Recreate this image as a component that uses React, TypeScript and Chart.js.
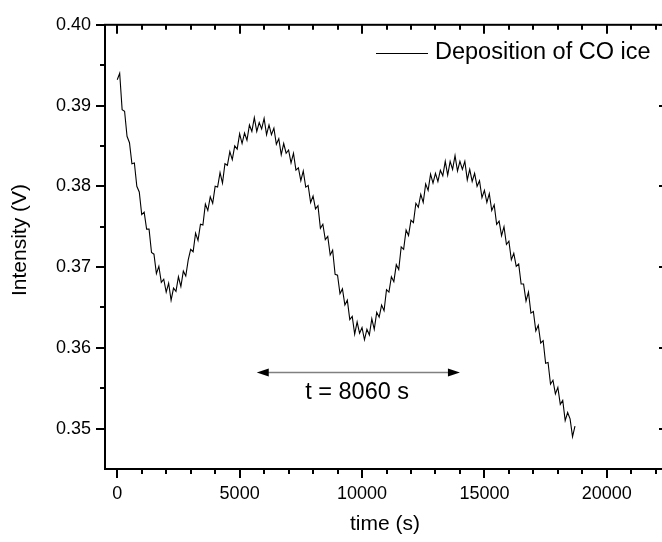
import React, { useEffect, useRef } from "react";
import { Chart, registerables } from "chart.js";

Chart.register(...registerables);

// ---- data (time in s, intensity in V) ----
const TIMES = [
  0, 100, 200, 300, 400, 500, 600, 700, 800, 900,
  1000, 1100, 1200, 1300, 1400, 1500, 1600, 1700, 1800, 1900,
  2000, 2100, 2200, 2300, 2400, 2500, 2600, 2700, 2800, 2900,
  3000, 3100, 3200, 3300, 3400, 3500, 3600, 3700, 3800, 3900,
  4000, 4100, 4200, 4300, 4400, 4500, 4600, 4700, 4800, 4900,
  5000, 5100, 5200, 5300, 5400, 5500, 5600, 5700, 5800, 5900,
  6000, 6100, 6200, 6300, 6400, 6500, 6600, 6700, 6800, 6900,
  7000, 7100, 7200, 7300, 7400, 7500, 7600, 7700, 7800, 7900,
  8000, 8100, 8200, 8300, 8400, 8500, 8600, 8700, 8800, 8900,
  9000, 9100, 9200, 9300, 9400, 9500, 9600, 9700, 9800, 9900,
  10000, 10100, 10200, 10300, 10400, 10500, 10600, 10700, 10800, 10900,
  11000, 11100, 11200, 11300, 11400, 11500, 11600, 11700, 11800, 11900,
  12000, 12100, 12200, 12300, 12400, 12500, 12600, 12700, 12800, 12900,
  13000, 13100, 13200, 13300, 13400, 13500, 13600, 13700, 13800, 13900,
  14000, 14100, 14200, 14300, 14400, 14500, 14600, 14700, 14800, 14900,
  15000, 15100, 15200, 15300, 15400, 15500, 15600, 15700, 15800, 15900,
  16000, 16100, 16200, 16300, 16400, 16500, 16600, 16700, 16800, 16900,
  17000, 17100, 17200, 17300, 17400, 17500, 17600, 17700, 17800, 17900,
  18000, 18100, 18200, 18300, 18400, 18500, 18600, 18700,
];

const INTENSITY = [
  0.3932, 0.3940, 0.3895, 0.3893, 0.3862, 0.3854, 0.3828, 0.3829, 0.3800, 0.3793,
  0.3765, 0.3768, 0.3747, 0.3747, 0.3718, 0.3716, 0.3692, 0.3701, 0.3681, 0.3685,
  0.3669, 0.3680, 0.3659, 0.3674, 0.3670, 0.3688, 0.3676, 0.3695, 0.3689, 0.3709,
  0.3722, 0.3719, 0.3742, 0.3733, 0.3753, 0.3752, 0.3778, 0.3770, 0.3787, 0.3779,
  0.3800, 0.3799, 0.3817, 0.3804, 0.3828, 0.3826, 0.3843, 0.3833, 0.3850, 0.3846,
  0.3865, 0.3853, 0.3866, 0.3857, 0.3876, 0.3868, 0.3885, 0.3868, 0.3879, 0.3871,
  0.3884, 0.3864, 0.3876, 0.3864, 0.3872, 0.3852, 0.3859, 0.3839, 0.3853, 0.3841,
  0.3845, 0.3829, 0.3841, 0.3820, 0.3823, 0.3807, 0.3819, 0.3799, 0.3801, 0.3780,
  0.3788, 0.3772, 0.3776, 0.3748, 0.3753, 0.3734, 0.3738, 0.3715, 0.3721, 0.3691,
  0.3690, 0.3667, 0.3673, 0.3653, 0.3659, 0.3635, 0.3639, 0.3617, 0.3632, 0.3618,
  0.3625, 0.3610, 0.3623, 0.3616, 0.3636, 0.3623, 0.3644, 0.3638, 0.3653, 0.3646,
  0.3672, 0.3669, 0.3688, 0.3682, 0.3703, 0.3697, 0.3725, 0.3722, 0.3746, 0.3739,
  0.3758, 0.3755, 0.3779, 0.3774, 0.3790, 0.3780, 0.3803, 0.3795, 0.3815, 0.3804,
  0.3816, 0.3806, 0.3820, 0.3813, 0.3831, 0.3814, 0.3831, 0.3821, 0.3838, 0.3819,
  0.3831, 0.3821, 0.3831, 0.3808, 0.3821, 0.3806, 0.3816, 0.3800, 0.3807, 0.3786,
  0.3795, 0.3780, 0.3791, 0.3770, 0.3777, 0.3753, 0.3757, 0.3739, 0.3750, 0.3728,
  0.3732, 0.3709, 0.3717, 0.3701, 0.3704, 0.3679, 0.3679, 0.3658, 0.3669, 0.3643,
  0.3645, 0.3621, 0.3628, 0.3606, 0.3609, 0.3581, 0.3582, 0.3555, 0.3560, 0.3543,
  0.3551, 0.3530, 0.3535, 0.3510, 0.3520, 0.3512, 0.3490, 0.3503,
];

const X_TICK_VALUES = [0, 5000, 10000, 15000, 20000];
const Y_TICK_VALUES = [0.35, 0.36, 0.37, 0.38, 0.39, 0.4];
const X_MINOR_VALUES = [
  1000, 2000, 3000, 4000, 6000, 7000, 8000, 9000, 11000, 12000, 13000, 14000,
  16000, 17000, 18000, 19000, 21000, 22000,
];
const Y_MINOR_VALUES = [0.355, 0.365, 0.375, 0.385, 0.395];

const SERIES_LABEL = "Deposition of CO ice";
const X_TITLE = "time (s)";
const Y_TITLE = "Intensity (V)";
const X_MIN = -500;
const X_MAX = 22500;
const Y_MIN = 0.345;
const Y_MAX = 0.4;

const ARROW_FROM = 5700;
const ARROW_TO = 14000;
const ARROW_Y = 0.357;
const ANNOT_TEXT = "t = 8060 s";
const ANNOT_X = 9800;
const ANNOT_Y = 0.3545;

const FONT = "'Liberation Sans', Arial, Helvetica, sans-serif";

const framePlugin = {
  id: "originFrame",
  afterDraw(chart: any) {
    const { ctx, chartArea: a, scales } = chart;
    const xs = scales.x;
    const ys = scales.y;
    ctx.save();
    ctx.strokeStyle = "#000";
    ctx.lineWidth = 2;
    ctx.strokeRect(a.left, a.top, a.right - a.left, a.bottom - a.top);

    ctx.beginPath();
    const xTick = (v: number, len: number) => {
      const px = Math.round(xs.getPixelForValue(v));
      ctx.moveTo(px, a.bottom);
      ctx.lineTo(px, a.bottom + len);
      ctx.moveTo(px, a.top);
      ctx.lineTo(px, a.top + len);
    };
    const yTick = (v: number, len: number) => {
      const py = Math.round(ys.getPixelForValue(v));
      ctx.moveTo(a.left, py);
      ctx.lineTo(a.left - len, py);
      ctx.moveTo(a.right, py);
      ctx.lineTo(a.right - len, py);
    };
    X_TICK_VALUES.forEach((v) => xTick(v, 9));
    X_MINOR_VALUES.forEach((v) => xTick(v, 5));
    Y_TICK_VALUES.forEach((v) => yTick(v, 9));
    Y_MINOR_VALUES.forEach((v) => yTick(v, 5));
    ctx.stroke();

    // axis titles
    ctx.fillStyle = "#000";
    ctx.font = `21px ${FONT}`;
    ctx.textAlign = "center";
    ctx.textBaseline = "middle";
    ctx.fillText(X_TITLE, 385, 524);
    ctx.save();
    ctx.translate(20, 240);
    ctx.rotate(-Math.PI / 2);
    ctx.fillText(Y_TITLE, 0, 0);
    ctx.restore();

    // legend
    ctx.lineWidth = 1;
    ctx.strokeStyle = "#000";
    ctx.beginPath();
    ctx.moveTo(376, 53.5);
    ctx.lineTo(428, 53.5);
    ctx.stroke();
    ctx.font = `23.5px ${FONT}`;
    ctx.textAlign = "left";
    ctx.fillText(SERIES_LABEL, 435, 53);

    // annotation arrow
    const ax1 = xs.getPixelForValue(ARROW_FROM);
    const ax2 = xs.getPixelForValue(ARROW_TO);
    const ay = Math.round(ys.getPixelForValue(ARROW_Y)) + 0.5;
    ctx.strokeStyle = "#808080";
    ctx.lineWidth = 1.5;
    ctx.beginPath();
    ctx.moveTo(ax1 + 8, ay);
    ctx.lineTo(ax2 - 8, ay);
    ctx.stroke();
    ctx.fillStyle = "#000";
    ctx.beginPath();
    ctx.moveTo(ax1, ay);
    ctx.lineTo(ax1 + 12, ay - 4);
    ctx.lineTo(ax1 + 12, ay + 4);
    ctx.closePath();
    ctx.fill();
    ctx.beginPath();
    ctx.moveTo(ax2, ay);
    ctx.lineTo(ax2 - 12, ay - 4);
    ctx.lineTo(ax2 - 12, ay + 4);
    ctx.closePath();
    ctx.fill();
    ctx.font = `23.5px ${FONT}`;
    ctx.textAlign = "center";
    ctx.textBaseline = "middle";
    ctx.fillText(ANNOT_TEXT, xs.getPixelForValue(ANNOT_X), ys.getPixelForValue(ANNOT_Y));
    ctx.restore();
  },
};

export default function App() {
  const ref = useRef<HTMLCanvasElement | null>(null);
  useEffect(() => {
    if (!ref.current) return;
    const points = TIMES.map((t, i) => ({ x: t, y: INTENSITY[i] }));
    const chart = new Chart(ref.current, {
      type: "line",
      data: {
        datasets: [
          {
            label: SERIES_LABEL,
            data: points,
            borderColor: "#000",
            borderWidth: 1.1,
            pointRadius: 0,
            tension: 0,
            fill: false,
          },
        ],
      },
      options: {
        responsive: false,
        animation: false,
        devicePixelRatio: 1,
        layout: { padding: { left: 0, top: 16, right: 12, bottom: 0 } },
        plugins: {
          legend: { display: false },
          tooltip: { enabled: false },
        },
        scales: {
          x: {
            type: "linear",
            min: X_MIN,
            max: X_MAX,
            grid: { display: false, drawTicks: false },
            border: { display: false },
            afterBuildTicks: (s: any) => {
              s.ticks = X_TICK_VALUES.map((v) => ({ value: v }));
            },
            afterFit: (s: any) => {
              s.height = 73;
            },
            ticks: {
              autoSkip: false,
              maxRotation: 0,
              padding: 14,
              color: "#000",
              font: { family: FONT, size: 18 },
              callback: (v: any) => String(v),
            },
          },
          y: {
            type: "linear",
            min: Y_MIN,
            max: Y_MAX,
            grid: { display: false, drawTicks: false },
            border: { display: false },
            afterBuildTicks: (s: any) => {
              s.ticks = Y_TICK_VALUES.map((v) => ({ value: v }));
            },
            afterFit: (s: any) => {
              s.width = 105;
            },
            ticks: {
              autoSkip: false,
              padding: 14,
              color: "#000",
              font: { family: FONT, size: 18 },
              callback: (v: any) => Number(v).toFixed(2),
            },
          },
        },
      },
      plugins: [framePlugin],
    });
    return () => chart.destroy();
  }, []);
  return (
    <div
      style={{
        position: "absolute",
        left: 0,
        top: 0,
        width: 662,
        height: 542,
        overflow: "hidden",
        background: "#fff",
      }}
    >
      <canvas ref={ref} width={680} height={542} style={{ display: "block" }} />
    </div>
  );
}
